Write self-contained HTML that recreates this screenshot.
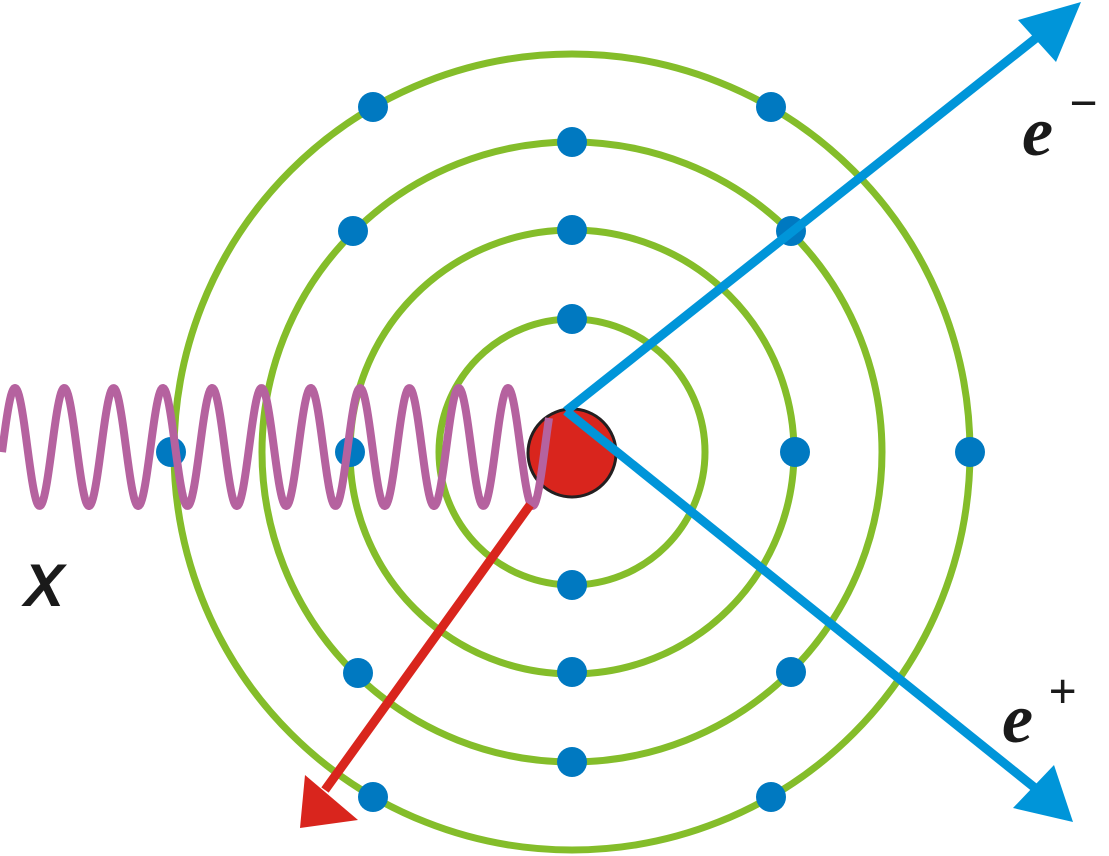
<!DOCTYPE html>
<html><head><style>html,body{margin:0;padding:0;background:#fff;width:1109px;height:856px;overflow:hidden}</style></head>
<body>
<svg id="s" width="1109" height="856" viewBox="0 0 1109 856" xmlns="http://www.w3.org/2000/svg">
<g fill="none" stroke="#84bd2a" stroke-width="7">
<circle cx="572" cy="452" r="133"/>
<circle cx="572" cy="452" r="222"/>
<circle cx="572" cy="452" r="310"/>
<circle cx="572" cy="452" r="398"/>
</g>
<g fill="#0079c1">
<circle cx="572" cy="319" r="15"/><circle cx="572" cy="585" r="15"/>
<circle cx="572" cy="230" r="15"/><circle cx="350" cy="452" r="15"/><circle cx="795" cy="452" r="15"/><circle cx="572" cy="672" r="15"/>
<circle cx="572" cy="142" r="15"/><circle cx="353" cy="231" r="15"/><circle cx="791" cy="231" r="15"/><circle cx="358" cy="673" r="15"/><circle cx="791" cy="672" r="15"/><circle cx="572" cy="762" r="15"/>
<circle cx="373" cy="107" r="15"/><circle cx="771" cy="107" r="15"/><circle cx="373" cy="797" r="15"/><circle cx="771" cy="797" r="15"/><circle cx="171" cy="452" r="15"/><circle cx="970" cy="452" r="15"/>
</g>
<circle cx="572" cy="453" r="44" fill="#d9251d" stroke="#231f20" stroke-width="3"/>
<polyline id="w" fill="none" stroke="#b5629f" stroke-width="8" stroke-linejoin="round"/>
<line x1="530" y1="505" x2="325" y2="790" stroke="#d9251d" stroke-width="9"/>
<polygon points="300,828 305,775 358,820" fill="#d9251d"/>
<line x1="566" y1="411" x2="1050" y2="27" stroke="#0095d9" stroke-width="9"/>
<polygon points="1081,2 1018,20 1056,62" fill="#0095d9"/>
<line x1="566" y1="411" x2="1045" y2="796" stroke="#0095d9" stroke-width="9"/>
<polygon points="1073,822 1054,765 1013,808" fill="#0095d9"/>
<g font-family="Liberation Serif, serif" font-weight="bold" font-style="italic" fill="#1a1a1a">
<text x="24" y="606" font-size="60" font-family="Liberation Sans, sans-serif">X</text>
<text x="1022" y="155" font-size="70">e</text><text x="1068" y="120" font-size="50">−</text>
<text x="1002" y="742" font-size="70">e</text><text x="1048" y="708" font-size="50">+</text>
</g>
</svg>
<script>
var p=[];for(var x=2;x<=549;x+=1){p.push(x+","+(447-59*Math.cos(2*Math.PI*(x-15)/49.3)).toFixed(1));}
document.getElementById("w").setAttribute("points",p.join(" "));
</script>
</body></html>
